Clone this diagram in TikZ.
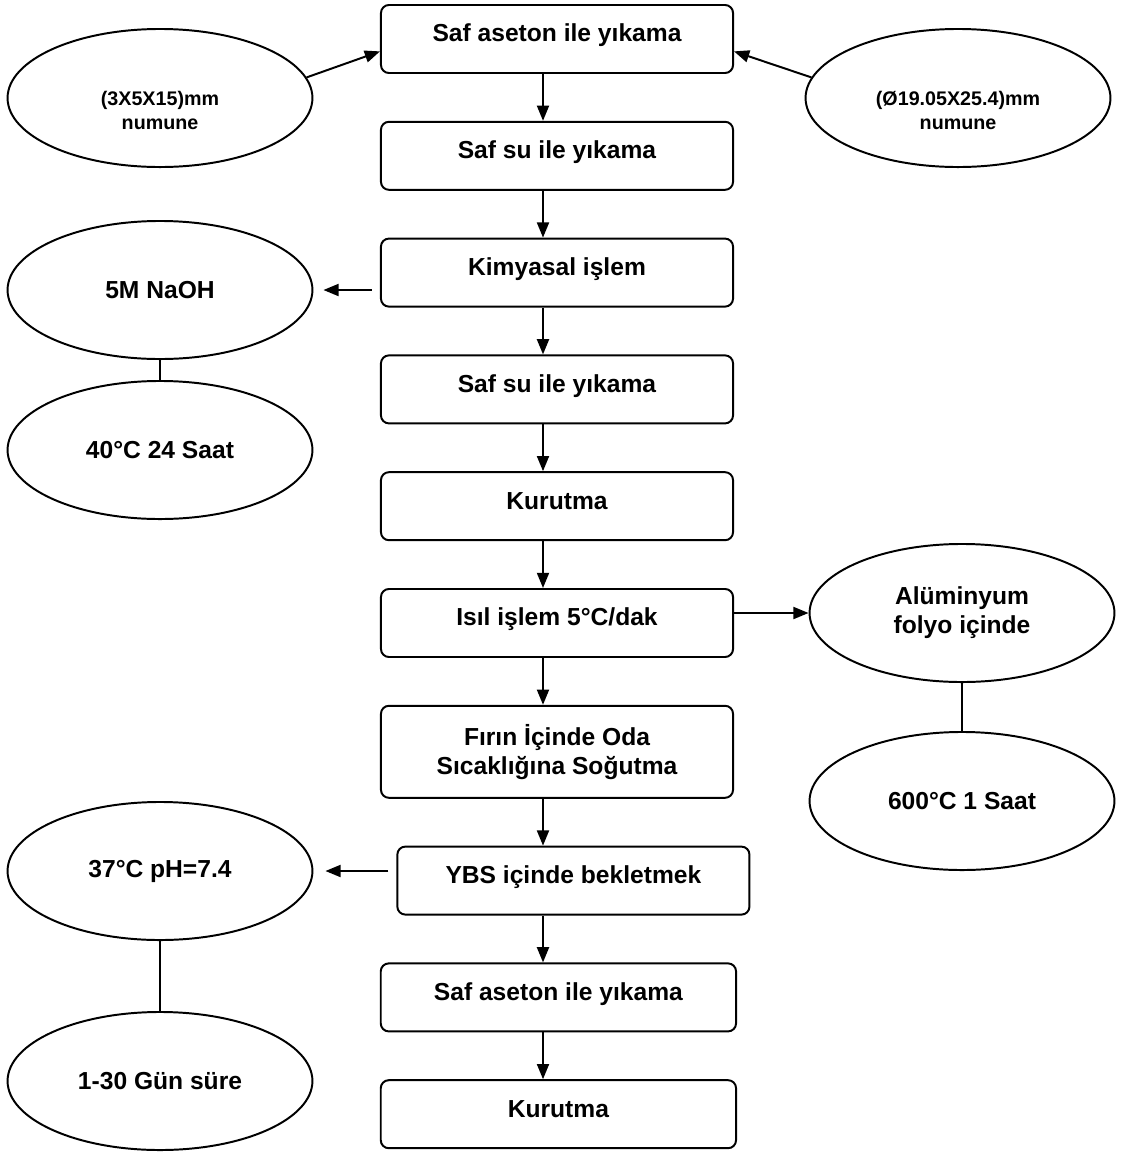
\documentclass[tikz,border=0pt]{standalone}
\usepackage{fontspec}
\setmainfont{Liberation Sans}
\usetikzlibrary{positioning,shapes.geometric,arrows.meta}

\begin{document}
\begin{tikzpicture}[x=0.025cm,y=-0.025cm,
    node distance=1.17cm,
    line width=1.4pt,
    font=\fontsize{17.5}{20.6}\selectfont\bfseries,
    stepbox/.style={draw,rounded corners=0.2cm,minimum width=8.8cm,minimum height=1.7cm,
      inner sep=0pt,text height=0.5cm,text depth=0.36cm},
    tallbox/.style={draw,rounded corners=0.2cm,minimum width=8.8cm,minimum height=2.3cm,
      inner sep=0pt,align=center},
    bubble/.style={draw,ellipse,minimum width=7.62cm,minimum height=3.45cm,inner sep=0pt,align=center},
    note/.style={draw,ellipse,minimum width=7.62cm,minimum height=3.45cm,inner sep=0pt,
      font=\fontsize{14}{16.5}\selectfont\bfseries,text height=1.2cm,text depth=0.2cm},
    arr/.style={-{Triangle[length=0.38cm,width=0.3cm]}}]

  \useasboundingbox (0,0) rectangle (1123,1152);
  \coordinate (spine) at (543,0);

  % process steps
  \node[stepbox] (b1) at (557,39) {Saf aseton ile yıkama};
  \node[stepbox,below=of b1] (b2) {Saf su ile yıkama};
  \node[stepbox,below=of b2] (b3) {Kimyasal işlem};
  \node[stepbox,below=of b3] (b4) {Saf su ile yıkama};
  \node[stepbox,below=of b4] (b5) {Kurutma};
  \node[stepbox,below=of b5] (b6) {Isıl işlem 5°C/dak};
  \node[tallbox,below=of b6] (b7) {Fırın İçinde Oda\\Sıcaklığına Soğutma};
  \node[stepbox,below=of b7,xshift=0.41cm] (b8) {YBS içinde bekletmek};
  \node[stepbox,minimum width=8.88cm,below=of b8,xshift=-0.375cm] (b9) {Saf aseton ile yıkama};
  \node[stepbox,minimum width=8.88cm,below=of b9] (b10) {Kurutma};

  % conditions
  \node[note] (e1) at (160,98) {\begin{tabular}{@{}c@{}}(3X5X15)mm\\numune\end{tabular}};
  \node[note] (e2) at (958,98) {\begin{tabular}{@{}c@{}}(Ø19.05X25.4)mm\\numune\end{tabular}};
  \node[bubble] (e3) at (160,290) {5M NaOH};
  \node[bubble] (e4) at (160,450) {40°C 24 Saat};
  \node[bubble] (e5) at (962,613) {Alüminyum\\folyo içinde};
  \node[bubble] (e6) at (962,801) {600°C 1 Saat};
  \node[bubble] (e7) at (160,871) {37°C pH=7.4};
  \node[bubble] (e8) at (160,1081) {1-30 Gün süre};

  \draw[arr] (b1.south -| spine) -- (b2.north -| spine);
  \draw[arr] (b2.south -| spine) -- (b3.north -| spine);
  \draw[arr] (b3.south -| spine) -- (b4.north -| spine);
  \draw[arr] (b4.south -| spine) -- (b5.north -| spine);
  \draw[arr] (b5.south -| spine) -- (b6.north -| spine);
  \draw[arr] (b6.south -| spine) -- (b7.north -| spine);
  \draw[arr] (b7.south -| spine) -- (b8.north -| spine);
  \draw[arr] (b8.south -| spine) -- (b9.north -| spine);
  \draw[arr] (b9.south -| spine) -- (b10.north -| spine);

  \draw[arr] (e1.8) -- (b1.184);
  \draw[arr] (e2.172) -- (b1.356);
  \draw[arr,shorten <=0.2cm,shorten >=0.25cm] (b3.west |- e3.east) -- (e3.east);
  \draw[arr] (b6.east |- e5.west) -- (e5.west);
  \draw[arr,shorten <=0.2cm,shorten >=0.3cm] (b8.west |- e7.east) -- (e7.east);

  \draw (e3) -- (e4);
  \draw (e5) -- (e6);
  \draw (e7) -- (e8);
\end{tikzpicture}
\end{document}
